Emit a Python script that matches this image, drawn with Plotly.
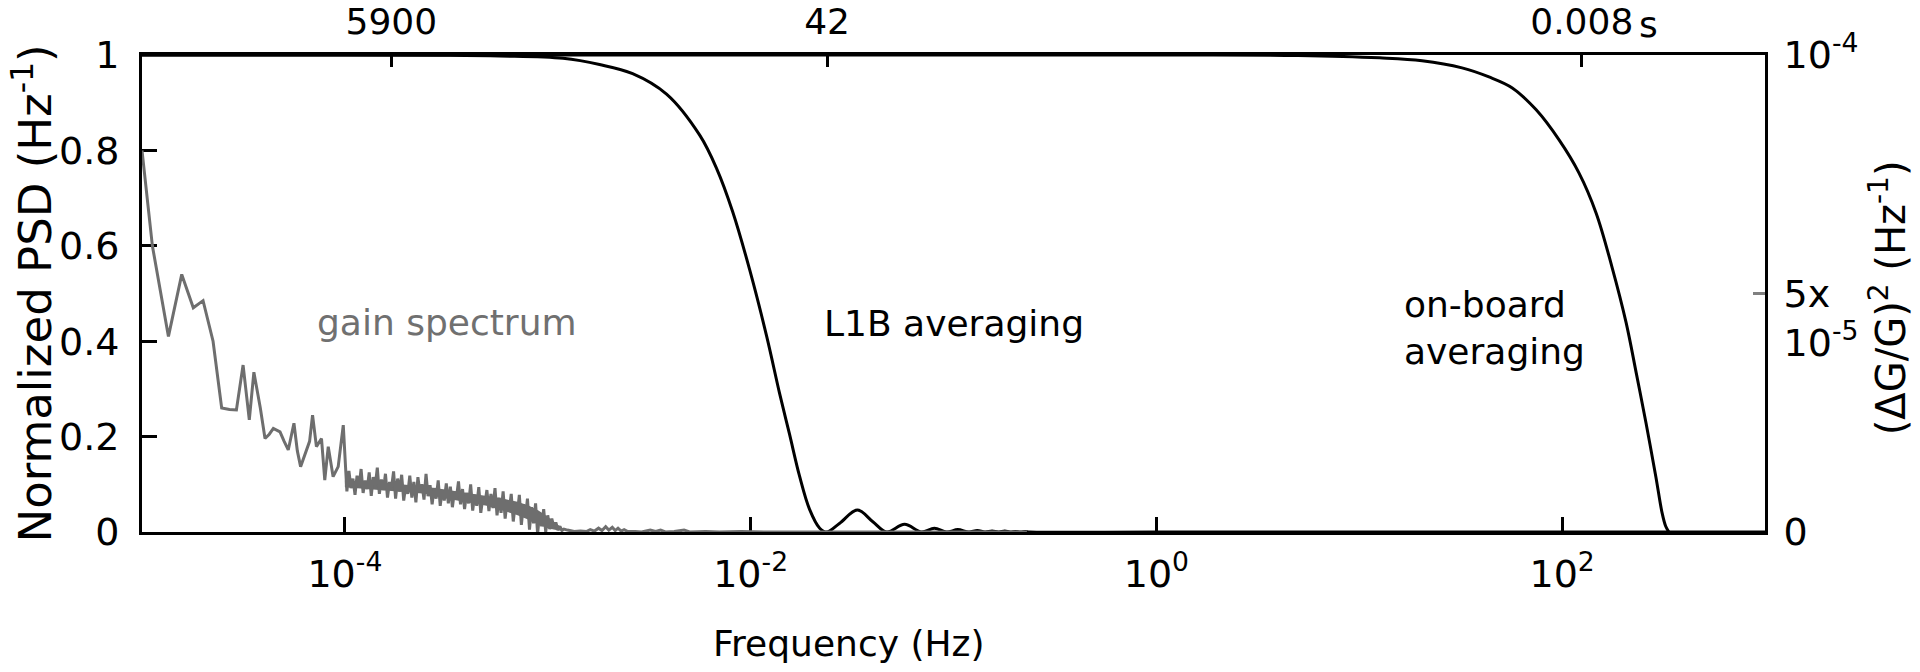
import math
import plotly.graph_objects as go

# ---------------- data ----------------
# Gain spectrum (normalized PSD, read on the left axis; right axis = value * 1e-4 Hz^-1)
gain_freq_low = [1.000e-5, 1.125e-5, 1.35e-5, 1.57e-5, 1.79e-5, 2.00e-5, 2.24e-5, 2.47e-5, 2.70e-5, 2.92e-5,
                 3.15e-5, 3.38e-5, 3.56e-5, 3.83e-5, 4.04e-5, 4.24e-5, 4.44e-5, 4.79e-5, 5.02e-5, 5.26e-5,
                 5.61e-5, 5.83e-5, 6.05e-5, 6.26e-5, 6.47e-5, 6.70e-5, 6.93e-5, 7.24e-5, 7.67e-5, 7.96e-5,
                 8.28e-5, 8.75e-5, 9.27e-5, 9.82e-5]
gain_psd_low = [0.80, 0.60, 0.41, 0.54, 0.47, 0.485, 0.40, 0.26, 0.257, 0.256,
                0.35, 0.235, 0.335, 0.26, 0.196, 0.205, 0.217, 0.21, 0.19, 0.172,
                0.228, 0.17, 0.137, 0.155, 0.168, 0.19, 0.245, 0.179, 0.196, 0.109,
                0.179, 0.116, 0.137, 0.224]

gain_freq_mid = [1.023e-4, 1.047e-4, 1.072e-4, 1.096e-4, 1.122e-4, 1.148e-4, 1.175e-4, 1.202e-4, 1.230e-4, 1.259e-4,
                 1.288e-4, 1.318e-4, 1.349e-4, 1.380e-4, 1.413e-4, 1.445e-4, 1.479e-4, 1.514e-4, 1.549e-4, 1.585e-4,
                 1.622e-4, 1.660e-4, 1.698e-4, 1.738e-4, 1.778e-4, 1.820e-4, 1.862e-4, 1.905e-4, 1.950e-4, 1.995e-4,
                 2.042e-4, 2.089e-4, 2.138e-4, 2.188e-4, 2.239e-4, 2.291e-4, 2.344e-4, 2.399e-4, 2.455e-4, 2.512e-4,
                 2.570e-4, 2.630e-4, 2.692e-4, 2.754e-4, 2.818e-4, 2.884e-4, 2.951e-4, 3.020e-4, 3.090e-4, 3.162e-4,
                 3.236e-4, 3.311e-4, 3.388e-4, 3.467e-4, 3.548e-4, 3.631e-4, 3.715e-4, 3.802e-4, 3.890e-4, 3.981e-4,
                 4.074e-4, 4.169e-4, 4.266e-4, 4.365e-4, 4.467e-4, 4.571e-4, 4.677e-4, 4.786e-4, 4.898e-4, 5.012e-4,
                 5.129e-4, 5.248e-4, 5.370e-4, 5.495e-4, 5.623e-4, 5.754e-4, 5.888e-4, 6.026e-4, 6.166e-4, 6.310e-4,
                 6.457e-4, 6.607e-4, 6.761e-4, 6.918e-4, 7.079e-4, 7.244e-4, 7.413e-4, 7.586e-4, 7.762e-4, 7.943e-4,
                 8.128e-4, 8.318e-4, 8.511e-4, 8.710e-4, 8.913e-4, 9.120e-4, 9.333e-4, 9.550e-4, 9.772e-4, 1.000e-3,
                 1.023e-3, 1.047e-3, 1.072e-3, 1.096e-3, 1.122e-3, 1.148e-3, 1.175e-3, 1.202e-3]
gain_psd_mid = [0.085, 0.128, 0.092, 0.112, 0.078, 0.118, 0.095, 0.132, 0.082, 0.108,
                0.090, 0.125, 0.076, 0.115, 0.098, 0.135, 0.080, 0.110, 0.088, 0.122,
                0.072, 0.105, 0.093, 0.127,
                0.070, 0.112, 0.085, 0.120, 0.066, 0.098, 0.080, 0.118, 0.072, 0.105,
                0.062, 0.115, 0.083, 0.100, 0.068, 0.122, 0.075,
                0.098, 0.058, 0.092, 0.070, 0.108, 0.055, 0.088, 0.066, 0.102, 0.060,
                0.095, 0.052, 0.085, 0.072, 0.106, 0.058,
                0.090, 0.048, 0.082, 0.060, 0.100, 0.045, 0.078, 0.055, 0.094, 0.040,
                0.072, 0.058, 0.088, 0.044, 0.080, 0.050, 0.092,
                0.035, 0.072, 0.040, 0.085, 0.028, 0.066, 0.045, 0.080, 0.022, 0.060,
                0.038, 0.078, 0.015, 0.058, 0.030, 0.070,
                0.005, 0.052, 0.018, 0.060, -0.004, 0.040, 0.012, 0.048, 0.000,
                0.035, 0.006, 0.028, 0.010, 0.020, 0.004, 0.012, 0.003, 0.006]

gain_freq_high = [1.25e-3, 1.35e-3, 1.45e-3, 1.55e-3, 1.62e-3, 1.70e-3, 1.78e-3, 1.85e-3, 1.93e-3, 2.00e-3,
                  2.08e-3, 2.15e-3, 2.22e-3, 2.30e-3, 2.38e-3, 2.48e-3, 2.70e-3, 2.90e-3, 3.20e-3, 3.40e-3,
                  3.60e-3, 3.80e-3, 4.20e-3, 4.70e-3, 5.00e-3, 6.0e-3, 7.0e-3, 9.0e-3, 1.2e-2, 2.0e-2,
                  5.0e-2, 0.1, 0.23]
gain_psd_high = [0.004, 0.001, 0.002, 0.001, 0.005, 0.002, 0.008, 0.003, 0.011, 0.004,
                 0.010, 0.003, 0.008, 0.002, 0.005, 0.001, 0.001, 0.0, 0.004, 0.001,
                 0.004, 0.0, 0.001, 0.004, 0.0, 0.001, 0.0, 0.001, 0.0, 0.0,
                 0.0, 0.0, 0.0]

# Solid core of the dense noise band of the gain spectrum (lower / upper edge)
band_freq = [1.0e-4, 1.5e-4, 2.0e-4, 2.5e-4, 3.0e-4, 4.0e-4, 5.0e-4, 6.0e-4, 7.0e-4, 8.0e-4,
             9.0e-4, 1.0e-3, 1.1e-3, 1.2e-3]
band_lo = [0.094, 0.088, 0.083, 0.080, 0.072, 0.062, 0.055, 0.045, 0.036, 0.026,
           0.015, 0.008, 0.004, 0.002]
band_hi = [0.108, 0.104, 0.099, 0.095, 0.090, 0.082, 0.076, 0.070, 0.064, 0.056,
           0.045, 0.032, 0.018, 0.006]

# L1B averaging response (normalized)
l1b_freq = [1e-5, 1e-4, 3.0e-4, 5.8e-4, 1.19e-3, 1.80e-3, 2.62e-3, 3.85e-3, 5.61e-3, 6.8e-3,
            8.15e-3, 9.89e-3, 1.20e-2, 1.39e-2, 1.555e-2, 1.74e-2, 1.95e-2, 2.19e-2, 2.37e-2, 2.74e-2,
            3.36e-2, 3.99e-2, 4.68e-2, 5.74e-2, 6.95e-2, 8.05e-2, 9.25e-2, 0.105, 0.119, 0.131,
            0.143, 0.155, 0.167, 0.179, 0.190, 0.202, 0.214, 0.226, 0.238, 1.0, 1000.0]
l1b_resp = [1.0, 1.0, 0.9995, 0.998, 0.993, 0.980, 0.961, 0.918, 0.832, 0.762,
            0.672, 0.55, 0.41, 0.29, 0.205, 0.118, 0.048, 0.008, 0.0, 0.018,
            0.046, 0.022, 0.0, 0.016, 0.0, 0.008, 0.0, 0.005, 0.0, 0.003,
            0.0, 0.002, 0.0, 0.002, 0.0, 0.001, 0.0, 0.001, 0.0, 0.0, 0.0]

# On-board averaging response (normalized)
ob_freq = [1e-5, 1.0, 5.0, 12.6, 20.4, 32.1, 43.6, 56.8, 74.5, 96.6,
           121.0, 147.0, 176.0, 207.0, 232.0, 259.0, 290.0, 311.0, 324.0, 336.0]
ob_resp = [1.0, 1.0, 0.999, 0.994, 0.988, 0.973, 0.954, 0.931, 0.885, 0.822,
           0.753, 0.669, 0.556, 0.438, 0.333, 0.229, 0.115, 0.040, 0.012, 0.0]

# Axis ticks
bottom_tickvals = [1e-4, 1e-2, 1.0, 1e2]
bottom_ticktext = ["10<sup>-4</sup>", "10<sup>-2</sup>", "10<sup>0</sup>", "10<sup>2</sup>"]
top_periods_s = [5900, 42, 0.008]
top_ticktext = ["5900", "42", "0.008"]
left_tickvals = [0, 0.2, 0.4, 0.6, 0.8, 1.0]
left_ticktext = ["0", "0.2", "0.4", "0.6", "0.8", "1"]
right_tickvals = [0, 5e-5, 1e-4]
right_ticktext = ["0", "<br>5x<br>10<sup>-5</sup>", "10<sup>-4</sup>"]

gain_freq = gain_freq_low + gain_freq_mid + gain_freq_high
gain_psd = gain_psd_low + gain_psd_mid + gain_psd_high
assert len(gain_freq) == len(gain_psd)
assert len(l1b_freq) == len(l1b_resp)
assert len(ob_freq) == len(ob_resp)
assert len(band_freq) == len(band_lo) == len(band_hi)

RIGHT_SCALE = 1e-4  # (dG/G)^2 value of normalized 1

FONT = "DejaVu Sans"
GRAY = "#6e6e6e"
TICK_SIZE = 38
TOP_TICK_SIZE = 36

fig = go.Figure()
# solid core of the noise band
fig.add_trace(go.Scatter(x=band_freq, y=[v * RIGHT_SCALE for v in band_lo], xaxis="x", yaxis="y2",
                         mode="lines", line=dict(color=GRAY, width=0), hoverinfo="skip"))
fig.add_trace(go.Scatter(x=band_freq, y=[v * RIGHT_SCALE for v in band_hi], xaxis="x", yaxis="y2",
                         mode="lines", line=dict(color=GRAY, width=0), fill="tonexty",
                         fillcolor=GRAY, hoverinfo="skip"))
fig.add_trace(go.Scatter(x=gain_freq, y=[v * RIGHT_SCALE for v in gain_psd], xaxis="x", yaxis="y2",
                         mode="lines", line=dict(color=GRAY, width=3), hoverinfo="skip"))
fig.add_trace(go.Scatter(x=l1b_freq, y=l1b_resp, xaxis="x", yaxis="y", mode="lines",
                         line=dict(color="black", width=3, shape="spline"), hoverinfo="skip"))
fig.add_trace(go.Scatter(x=ob_freq, y=ob_resp, xaxis="x2", yaxis="y", mode="lines",
                         line=dict(color="black", width=3, shape="spline"), hoverinfo="skip"))

axis_common = dict(showgrid=False, zeroline=False, showline=True, linecolor="black", linewidth=3,
                   ticks="inside", tickcolor="black", tickwidth=2.5, layer="below traces",
                   automargin=False)

fig.update_layout(
    template="none",
    width=1920, height=672,
    margin=dict(l=142, r=155, t=55, b=140, autoexpand=False),
    paper_bgcolor="white", plot_bgcolor="white",
    showlegend=False,
    font=dict(family=FONT, size=TICK_SIZE, color="black"),
    xaxis=dict(type="log", range=[-5, 3], tickvals=bottom_tickvals, ticktext=bottom_ticktext,
               ticklen=15, ticklabelstandoff=6, tickfont=dict(size=TICK_SIZE), **axis_common),
    xaxis2=dict(type="log", range=[-5, 3], overlaying="x", side="top", anchor="y",
                tickvals=[1.0 / p for p in top_periods_s], ticktext=top_ticktext,
                ticklen=12, ticklabelstandoff=4, tickfont=dict(size=TOP_TICK_SIZE), **axis_common),
    yaxis=dict(range=[0, 1], tickvals=left_tickvals, ticktext=left_ticktext, ticklen=15,
               ticklabelstandoff=12, tickfont=dict(size=TICK_SIZE), **axis_common),
    yaxis2=dict(range=[0, 1e-4], overlaying="y", side="right", anchor="x",
                tickvals=right_tickvals, ticktext=right_ticktext, ticklen=12,
                ticklabelstandoff=8, tickfont=dict(size=TICK_SIZE), automargin=False,
                showgrid=False, zeroline=False, showline=True, linecolor="black", linewidth=3,
                ticks="inside", tickcolor="#808080", tickwidth=2.5, layer="below traces"),
    annotations=[
        dict(text="gain spectrum", x=math.log10(7.1e-5), y=0.44, xref="x", yref="y",
             xanchor="left", yanchor="middle", showarrow=False, font=dict(size=36, color="#707070")),
        dict(text="L1B averaging", x=math.log10(2.24e-2), y=0.438, xref="x", yref="y",
             xanchor="left", yanchor="middle", showarrow=False, font=dict(size=36, color="black")),
        dict(text="on-board<br>averaging", x=math.log10(16.3), y=0.428, xref="x", yref="y",
             xanchor="left", yanchor="middle", align="left", showarrow=False,
             font=dict(size=36, color="black")),
        dict(text="s", x=0.928, y=1, xref="paper", yref="paper", xanchor="center", yanchor="middle",
             yshift=31, showarrow=False, font=dict(size=TOP_TICK_SIZE, color="black")),
        # axis titles
        dict(text="Frequency (Hz)", x=0.4356, y=0, xref="paper", yref="paper",
             xanchor="center", yanchor="middle", yshift=-111, showarrow=False,
             font=dict(size=36, color="black")),
        dict(text="Normalized PSD (Hz<sup>-1</sup>)", x=0, y=0.5, xref="paper", yref="paper",
             xanchor="center", yanchor="middle", xshift=-109, textangle=-90, showarrow=False,
             font=dict(size=45, color="black")),
        dict(text="(ΔG/G)<sup>2</sup> (Hz<sup>-1</sup>)", x=1, y=0.49, xref="paper", yref="paper",
             xanchor="center", yanchor="middle", xshift=123, textangle=-90, showarrow=False,
             font=dict(size=40, color="black")),
    ],
)

fig.write_html("out.html", config={"displayModeBar": False},
               post_script="document.body.style.margin='0';")
